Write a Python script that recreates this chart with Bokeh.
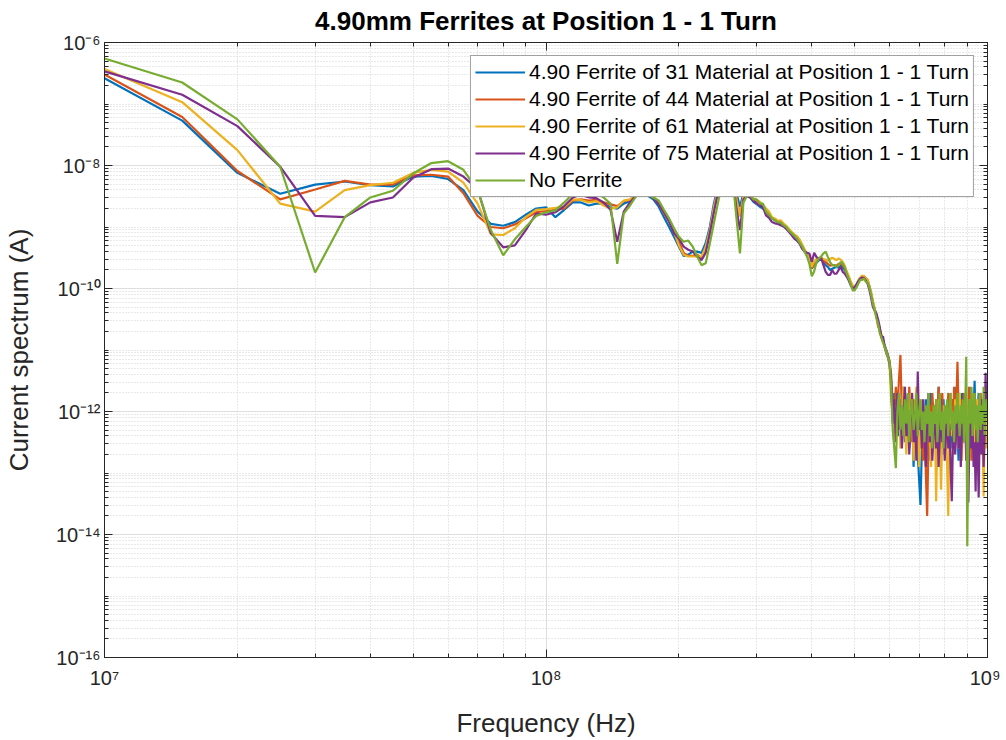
from bokeh.plotting import figure
from bokeh.models import LogAxis, FixedTicker, CustomJSTickFormatter, CustomLabelingPolicy
from bokeh.embed import file_html
from bokeh.resources import INLINE
import numpy as np

# Frequency grid in MHz
freq_mhz = [
    10, 15, 20, 25, 30, 35, 40, 45, 50, 55,
    60, 65, 70, 75, 80, 85, 90, 95, 100, 105,
    110, 115, 120, 125, 130, 135, 140, 145, 150, 155,
    160, 165, 170, 175, 180, 185, 190, 195, 200, 205,
    210, 215, 220, 225, 230, 235, 240, 245, 250, 255,
    260, 265, 270, 275, 280, 285, 290, 295, 300, 305,
    310, 315, 320, 325, 330, 335, 340, 345, 350, 355,
    360, 365, 370, 375, 380, 385, 390, 395, 400, 405,
    410, 415, 420, 425, 430, 435, 440, 445, 450, 455,
    460, 465, 470, 475, 480, 485, 490, 495, 500, 505,
    510, 515, 520, 525, 530, 535, 540, 545, 550, 555,
    560, 565, 570, 575, 580, 585, 590, 595, 600, 605,
    610, 615, 620, 625, 630, 635, 640, 645, 650, 655,
    660, 665, 670, 675, 680, 685, 690, 695, 700, 705,
    710, 715, 720, 725, 730, 735, 740, 745, 750, 755,
    760, 765, 770, 775, 780, 785, 790, 795, 800, 805,
    810, 815, 820, 825, 830, 835, 840, 845, 850, 855,
    860, 865, 870, 875, 880, 885, 890, 895, 900, 905,
    910, 915, 920, 925, 930, 935, 940, 945, 950, 955,
    960, 965, 970, 975, 980, 985, 990, 995, 1000,
]

# log10 of current spectrum (A), 10-600 MHz
m31_main = [
    -6.58, -7.27, -8.12, -8.46, -8.31, -8.26, -8.32, -8.34, -8.18, -8.17,
    -8.22, -8.40, -8.75, -8.95, -8.98, -8.92, -8.80, -8.70, -8.68, -8.84,
    -8.72, -8.60, -8.60, -8.65, -8.62, -8.62, -8.68, -8.70, -8.62, -8.58,
    -8.50, -8.47, -8.49, -8.55, -8.67, -8.84, -9.00, -9.16, -9.32, -9.47,
    -9.45, -9.40, -9.40, -9.42, -9.26, -9.00, -8.62, -8.35, -8.10, -7.95,
    -7.92, -8.15, -8.45, -8.67, -8.45, -8.48, -8.52, -8.59, -8.63, -8.67,
    -8.70, -8.75, -8.81, -8.86, -8.89, -8.92, -8.94, -8.97, -9.00, -9.05,
    -9.11, -9.14, -9.16, -9.21, -9.29, -9.38, -9.45, -9.55, -9.67, -9.62,
    -9.58, -9.54, -9.53, -9.57, -9.62, -9.65, -9.70, -9.68, -9.66, -9.65,
    -9.66, -9.63, -9.66, -9.70, -9.76, -9.84, -9.92, -9.97, -10.00, -9.97,
    -9.89, -9.84, -9.81, -9.81, -9.84, -9.88, -9.97, -10.08, -10.22, -10.34,
    -10.44, -10.55, -10.68, -10.78, -10.86, -10.92, -11.00, -11.08, -11.20,
]
m44_main = [
    -6.52, -7.21, -8.09, -8.55, -8.39, -8.25, -8.31, -8.31, -8.16, -8.15,
    -8.18, -8.45, -8.82, -9.00, -9.02, -8.96, -8.86, -8.76, -8.74, -8.72,
    -8.70, -8.57, -8.55, -8.57, -8.56, -8.60, -8.63, -8.66, -8.58, -8.56,
    -8.48, -8.46, -8.47, -8.52, -8.62, -8.78, -8.91, -9.10, -9.24, -9.42,
    -9.47, -9.47, -9.45, -9.51, -9.37, -9.10, -8.73, -8.42, -8.15, -7.98,
    -7.93, -8.10, -8.55, -8.81, -8.50, -8.48, -8.50, -8.55, -8.58, -8.61,
    -8.67, -8.75, -8.80, -8.85, -8.88, -8.91, -8.92, -8.96, -8.99, -9.05,
    -9.10, -9.14, -9.17, -9.22, -9.30, -9.38, -9.45, -9.55, -9.67, -9.60,
    -9.57, -9.52, -9.52, -9.55, -9.57, -9.60, -9.63, -9.62, -9.62, -9.63,
    -9.60, -9.60, -9.62, -9.67, -9.74, -9.82, -9.90, -9.96, -9.99, -9.96,
    -9.88, -9.83, -9.80, -9.80, -9.83, -9.86, -9.96, -10.08, -10.22, -10.33,
    -10.42, -10.62, -10.65, -10.75, -10.83, -10.95, -11.02, -11.10, -11.18,
]
m61_main = [
    -6.43, -6.97, -7.75, -8.62, -8.75, -8.40, -8.32, -8.28, -8.12, -8.07,
    -8.10, -8.28, -8.62, -9.12, -9.13, -9.02, -8.84, -8.72, -8.71, -8.69,
    -8.67, -8.55, -8.56, -8.60, -8.58, -8.65, -8.70, -8.68, -8.57, -8.55,
    -8.47, -8.44, -8.45, -8.50, -8.60, -8.76, -8.88, -9.08, -9.30, -9.45,
    -9.48, -9.48, -9.48, -9.48, -9.32, -9.05, -8.68, -8.40, -8.12, -7.95,
    -7.90, -8.10, -8.55, -8.83, -8.50, -8.47, -8.48, -8.53, -8.56, -8.59,
    -8.64, -8.70, -8.75, -8.84, -8.86, -8.90, -8.89, -8.94, -8.98, -9.03,
    -9.08, -9.12, -9.15, -9.20, -9.28, -9.36, -9.43, -9.52, -9.65, -9.55,
    -9.52, -9.50, -9.50, -9.52, -9.53, -9.55, -9.52, -9.50, -9.52, -9.54,
    -9.51, -9.53, -9.57, -9.63, -9.72, -9.80, -9.88, -9.95, -9.98, -9.95,
    -9.86, -9.82, -9.79, -9.80, -9.83, -9.86, -9.95, -10.06, -10.20, -10.32,
    -10.45, -10.56, -10.70, -10.80, -10.88, -10.93, -11.03, -11.12, -11.25,
]
m75_main = [
    -6.47, -6.85, -7.36, -8.02, -8.82, -8.84, -8.60, -8.52, -8.20, -8.06,
    -8.05, -8.18, -8.38, -9.10, -9.33, -9.30, -9.05, -8.78, -8.80, -8.76,
    -8.66, -8.52, -8.47, -8.52, -8.53, -8.60, -8.72, -9.24, -8.75, -8.60,
    -8.48, -8.44, -8.45, -8.52, -8.63, -8.76, -8.91, -9.10, -9.19, -9.32,
    -9.37, -9.40, -9.48, -9.54, -9.42, -9.10, -8.76, -8.45, -8.18, -8.00,
    -7.95, -8.20, -8.70, -9.05, -8.55, -8.50, -8.52, -8.57, -8.62, -8.64,
    -8.68, -8.81, -8.85, -8.92, -8.94, -8.95, -8.97, -8.99, -9.03, -9.08,
    -9.13, -9.19, -9.22, -9.27, -9.35, -9.40, -9.42, -9.43, -9.57, -9.42,
    -9.49, -9.52, -9.50, -9.62, -9.73, -9.78, -9.78, -9.70, -9.76, -9.76,
    -9.70, -9.65, -9.73, -9.76, -9.81, -9.87, -9.95, -10.00, -9.98, -9.93,
    -9.88, -9.84, -9.82, -9.83, -9.87, -9.92, -10.02, -10.15, -10.30, -10.36,
    -10.40, -10.50, -10.62, -10.80, -10.78, -10.95, -11.05, -11.12, -11.22,
]
none_main = [
    -6.26, -6.65, -7.25, -8.02, -9.74, -8.84, -8.52, -8.41, -8.13, -7.96,
    -7.93, -8.07, -8.40, -9.05, -9.46, -9.20, -9.00, -8.82, -8.76, -8.73,
    -8.60, -8.46, -8.40, -8.45, -8.44, -8.52, -8.62, -9.60, -8.78, -8.65,
    -8.50, -8.45, -8.46, -8.52, -8.57, -8.72, -8.86, -9.02, -9.16, -9.24,
    -9.22, -9.32, -9.48, -9.62, -9.59, -9.27, -8.94, -8.62, -8.30, -8.05,
    -7.95, -8.25, -8.85, -9.43, -8.60, -8.50, -8.49, -8.55, -8.55, -8.62,
    -8.62, -8.75, -8.80, -8.86, -8.89, -8.92, -8.93, -8.97, -9.00, -9.06,
    -9.10, -9.14, -9.18, -9.25, -9.31, -9.40, -9.48, -9.60, -9.80, -9.72,
    -9.57, -9.51, -9.48, -9.43, -9.40, -9.49, -9.57, -9.62, -9.62, -9.65,
    -9.62, -9.57, -9.59, -9.65, -9.76, -9.84, -9.93, -10.03, -10.03, -9.98,
    -9.92, -9.86, -9.86, -9.84, -9.89, -9.90, -9.98, -10.10, -10.25, -10.35,
    -10.48, -10.57, -10.72, -10.80, -10.88, -10.96, -11.05, -11.12, -11.20,
]

# log10 of current spectrum (A), 605-1000 MHz (noise floor)
m31_floor = [
    -11.6, -12.0, -11.7, -12.3, -11.9, -12.4, -11.8, -12.1, -11.6, -12.5,
    -12.0, -11.7, -12.6, -12.2, -11.8, -12.9, -12.3, -11.9, -12.7, -13.1,
    -13.52, -12.6, -12.0, -12.4, -11.8, -12.2, -12.8, -12.1, -11.7, -12.3,
    -12.0, -12.6, -11.9, -12.2, -11.6, -12.4, -12.0, -12.7, -11.8, -12.3,
    -12.5, -11.9, -12.2, -11.7, -12.6, -12.1, -11.8, -12.4, -12.0, -11.6,
    -12.3, -12.8, -11.9, -12.2, -11.7, -12.5, -12.0, -11.8, -12.3, -12.7,
    -12.1, -11.6, -12.4, -11.9, -12.6, -12.0, -11.5, -12.3, -12.8, -12.0,
    -11.7, -12.4, -12.1, -11.8, -12.5, -12.0, -11.6, -12.2, -11.9, -12.3,
]
m44_floor = [
    -11.4, -11.9, -12.2, -11.6, -12.0, -11.5, -11.08, -12.1, -11.7, -12.4,
    -11.9, -12.3, -11.6, -12.0, -12.5, -11.8, -12.2, -11.7, -12.6, -12.1,
    -11.9, -12.4, -12.8, -12.2, -13.0, -13.7, -12.5, -11.9, -12.3, -11.7,
    -12.1, -12.5, -11.8, -12.2, -11.6, -12.4, -12.0, -11.7, -12.3, -12.6,
    -11.9, -12.2, -11.7, -12.5, -12.0, -11.8, -12.4, -11.6, -12.1, -11.9,
    -11.19, -12.0, -12.4, -11.8, -12.6, -12.1, -11.7, -12.3, -11.9, -12.5,
    -12.0, -11.6, -12.2, -12.8, -11.9, -12.3, -11.7, -12.4, -12.0, -11.8,
    -12.5, -12.1, -11.7, -12.3, -11.9, -12.6, -12.0, -11.6, -12.2, -11.9,
]
m61_floor = [
    -11.8, -12.08, -12.5, -11.9, -12.3, -11.7, -12.6, -12.0, -11.6, -12.2,
    -12.7, -11.9, -12.4, -11.7, -12.1, -12.8, -12.0, -11.6, -12.3, -12.9,
    -12.2, -11.8, -12.5, -12.0, -12.7, -12.3, -11.9, -12.4, -12.9, -12.1,
    -12.6, -12.2, -13.46, -12.4, -11.8, -12.5, -13.27, -12.3, -11.9, -12.6,
    -12.2, -12.9, -13.7, -12.3, -11.7, -12.4, -12.0, -12.7, -11.8, -12.3,
    -12.0, -12.6, -11.7, -12.2, -12.8, -11.9, -12.4, -12.1, -11.6, -12.5,
    -12.0, -12.7, -11.8, -12.3, -11.7, -12.6, -12.1, -12.9, -12.2, -11.8,
    -12.4, -12.0, -12.7, -11.9, -12.5, -13.38, -12.3, -11.8, -12.6, -12.2,
]
m75_floor = [
    -11.5, -12.2, -11.8, -12.5, -11.7, -12.3, -11.9, -12.6, -12.0, -11.6,
    -12.4, -11.9, -12.7, -12.1, -11.7, -12.5, -12.0, -12.8, -11.35, -12.3,
    -12.0, -12.6, -11.8, -12.4, -12.9, -12.2, -11.7, -12.5, -12.1, -12.8,
    -12.3, -11.9, -12.6, -12.2, -12.9, -12.4, -11.8, -12.5, -12.1, -12.8,
    -12.4, -11.9, -12.6, -12.2, -12.9, -13.46, -12.5, -12.0, -12.7, -12.3,
    -11.9, -12.6, -12.2, -12.9, -12.4, -11.8, -12.5, -12.1, -12.8, -12.3,
    -13.48, -12.4, -11.9, -12.6, -12.2, -12.9, -12.5, -13.3, -12.0, -12.6,
    -13.4, -12.3, -11.8, -12.7, -12.2, -12.9, -12.4, -11.37, -12.0, -11.7,
]
none_floor = [
    -11.6, -12.3, -12.6, -12.92, -12.0, -11.7, -12.3, -11.9, -12.4, -11.8,
    -12.2, -11.7, -12.5, -12.0, -11.8, -12.3, -12.1, -11.7, -12.4, -12.0,
    -11.8, -12.3, -12.0, -12.5, -11.9, -12.2, -11.7, -12.4, -12.0, -12.6,
    -11.9, -12.2, -11.8, -12.5, -12.1, -11.7, -12.3, -12.0, -12.6, -11.9,
    -12.2, -11.8, -12.4, -12.0, -11.7, -12.3, -12.0, -12.5, -11.9, -12.2,
    -11.7, -12.1, -12.4, -11.9, -12.2, -11.8, -12.5, -12.0, -11.11, -14.19,
    -12.3, -11.8, -12.2, -11.6, -12.4, -12.0, -11.7, -12.3, -11.9, -12.5,
    -12.0, -11.7, -12.3, -11.9, -12.2, -11.6, -12.4, -12.0, -11.8, -12.1,
]

labels = [
    "4.90 Ferrite of 31 Material at Position 1 - 1 Turn",
    "4.90 Ferrite of 44 Material at Position 1 - 1 Turn",
    "4.90 Ferrite of 61 Material at Position 1 - 1 Turn",
    "4.90 Ferrite of 75 Material at Position 1 - 1 Turn",
    "No Ferrite",
]
colors = ["#0072BD", "#D95319", "#EDB120", "#7E2F8E", "#77AC30"]
series = [
    m31_main + m31_floor,
    m44_main + m44_floor,
    m61_main + m61_floor,
    m75_main + m75_floor,
    none_main + none_floor,
]

FONT = "Liberation Sans"
AX = "#262626"

p = figure(
    width=1000, height=740,
    x_axis_type="log", y_axis_type="log",
    x_range=(1e7, 1e9), y_range=(1e-16, 1e-6),
    output_backend="svg", toolbar_location=None,
    min_border_left=103, min_border_right=13,
    min_border_top=42, min_border_bottom=82,
)

f_hz = np.array(freq_mhz, dtype=float) * 1e6
for vals, lab, col in zip(series, labels, colors):
    p.line(f_hz, 10.0 ** np.array(vals), line_color=col, line_width=2.2,
           legend_label=lab)

# ticks
x_major = [1e7, 1e8, 1e9]
x_minor = [m * 10.0 ** e for e in (7, 8) for m in range(2, 10)]
y_major = [10.0 ** e for e in (-16, -14, -12, -10, -8, -6)]
y_minor = [m * 10.0 ** e for e in range(-16, -6) for m in range(1, 10)
           if not (m == 1 and e % 2 == 0)]

fmt = CustomJSTickFormatter(code="""
const e = Math.round(Math.log10(tick));
const sup = {'-':'\\u207B','0':'\\u2070','1':'\\u00B9','2':'\\u00B2','3':'\\u00B3',
             '4':'\\u2074','5':'\\u2075','6':'\\u2076','7':'\\u2077','8':'\\u2078','9':'\\u2079'};
return '10' + String(e).split('').map(c => sup[c]).join('');
""")

no_labels = CustomLabelingPolicy(code="""
const all = [...indices];
for (const i of all) { indices.unset(i); }
return indices;
""")

xt = FixedTicker(ticks=x_major, minor_ticks=x_minor)
yt = FixedTicker(ticks=y_major, minor_ticks=y_minor)

def style_axis(ax, show_labels):
    ax.axis_line_color = AX
    ax.major_tick_line_color = AX
    ax.minor_tick_line_color = AX
    ax.major_tick_in = 8
    ax.major_tick_out = 0
    ax.minor_tick_in = 4
    ax.minor_tick_out = 0
    ax.major_label_text_font = FONT
    ax.major_label_text_color = AX
    ax.major_label_text_font_size = "20px"
    ax.major_label_standoff = 4
    ax.axis_label_text_font = FONT
    ax.axis_label_text_font_style = "normal"
    ax.axis_label_text_color = AX
    ax.axis_label_text_font_size = "26px"
    if not show_labels:
        ax.major_label_policy = no_labels
        ax.major_label_standoff = 0
        ax.major_label_text_font_size = "1px"

p.xaxis.ticker = xt
p.yaxis.ticker = yt
p.xaxis.formatter = fmt
p.yaxis.formatter = fmt
style_axis(p.xaxis[0], True)
style_axis(p.yaxis[0], True)
p.xaxis.major_label_standoff = 9
p.xaxis.axis_label = "Frequency (Hz)"
p.yaxis.axis_label = "Current spectrum (A)"
p.xaxis.axis_label_standoff = 16
p.yaxis.axis_label_standoff = 19

top_ax = LogAxis(ticker=xt, formatter=fmt)
right_ax = LogAxis(ticker=yt, formatter=fmt)
style_axis(top_ax, False)
style_axis(right_ax, False)
p.add_layout(top_ax, "above")
p.add_layout(right_ax, "right")

# grids
for g, t in ((p.xgrid[0], xt), (p.ygrid[0], yt)):
    g.ticker = t
    g.grid_line_color = "#dedede"
    g.grid_line_width = 1
    g.minor_grid_line_color = "#d2d2d2"
    g.minor_grid_line_dash = "1 2"
    g.minor_grid_line_width = 1

p.outline_line_color = AX
p.background_fill_color = "white"
p.border_fill_color = "white"

p.title.text = "4.90mm Ferrites at Position 1 - 1 Turn"
p.title.align = "center"
p.title.text_font = FONT
p.title.text_font_style = "bold"
p.title.text_font_size = "26px"
p.title.text_color = "black"
p.title.standoff = 6

lg = p.legend[0]
lg.location = "top_right"
lg.margin = 13
lg.padding = 4
lg.spacing = 3
lg.glyph_width = 50
lg.glyph_height = 24
lg.label_height = 24
lg.label_standoff = 4
lg.label_text_font = FONT
lg.label_text_font_size = "21px"
lg.label_text_color = "black"
lg.border_line_color = "#444444"
lg.border_line_width = 1
lg.background_fill_color = "white"
lg.background_fill_alpha = 1.0

open("out.html", "w").write(file_html(p, INLINE))
